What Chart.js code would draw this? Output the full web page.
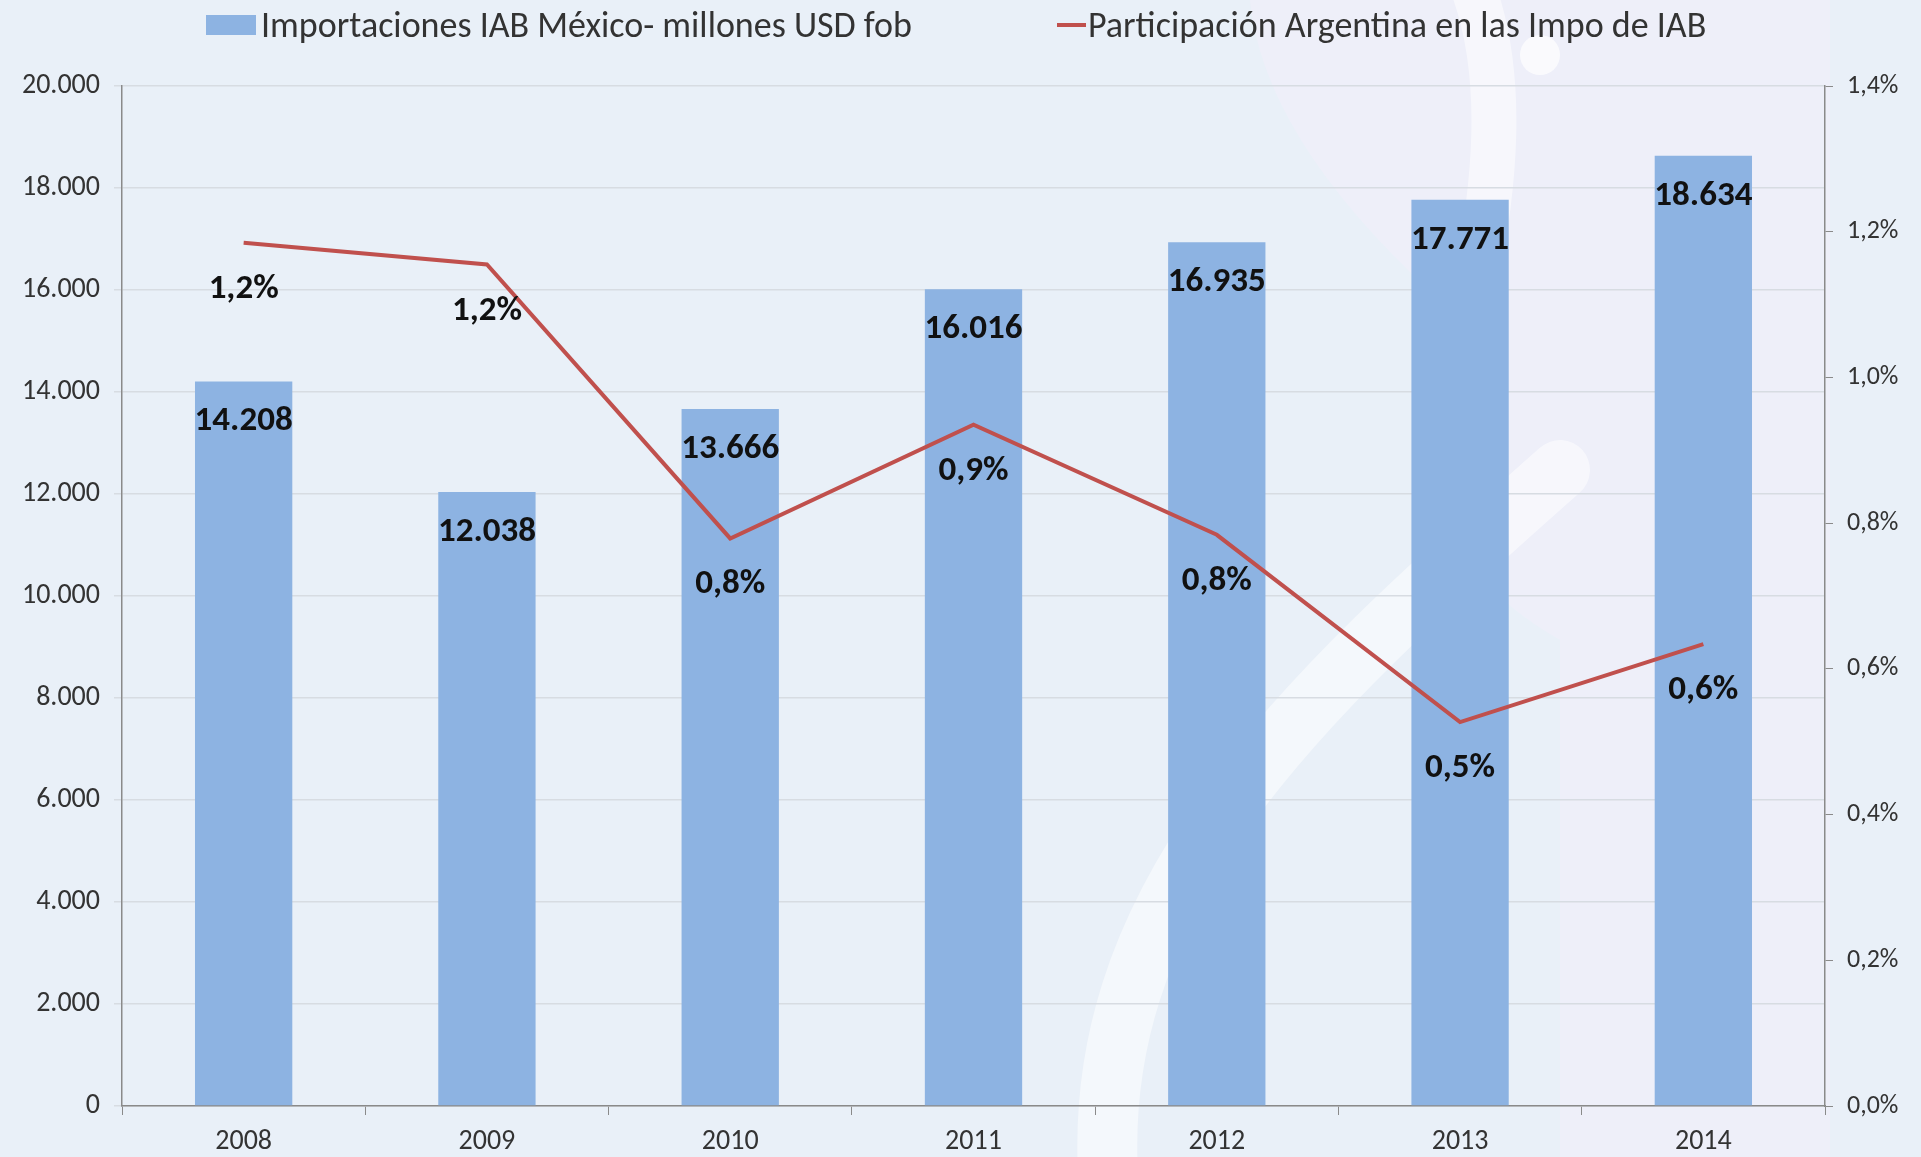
<!DOCTYPE html>
<html lang="es">
<head>
<meta charset="UTF-8">
<title>Importaciones IAB México</title>
<script src="https://cdn.jsdelivr.net/npm/chart.js@4"></script>
<style>
  * { margin: 0; padding: 0; box-sizing: border-box; }
  html, body { width: 1921px; height: 1157px; overflow: hidden; background: #E9F0F8; }
  canvas { display: block; }
</style>
</head>
<body>
<canvas id="chart" width="1921" height="1157"></canvas>
<script>
// ---------- Data ----------
const years = ['2008', '2009', '2010', '2011', '2012', '2013', '2014'];
const importaciones = [14208, 12038, 13666, 16016, 16935, 17771, 18634];   // millones USD fob
const participacion = [1.185, 1.155, 0.779, 0.935, 0.784, 0.527, 0.634];   // % Argentina

const FONT = 'Carlito, Lato, "Liberation Sans", sans-serif';
const BAR_COLOR = '#8DB3E2';
const LINE_COLOR = '#C0504D';
const TEXT = '#333';

const fmtMiles = n => String(Math.round(n)).replace(/\B(?=(\d{3})+(?!\d))/g, '.');
const fmtPct = (v, d) => v.toFixed(d).replace('.', ',') + '%';

// faint logo watermark behind the plot (decoration only)
const watermark = {
  id: 'watermark',
  beforeDraw(chart) {
    const { ctx } = chart;
    ctx.save();
    // lavender body
    ctx.fillStyle = '#EEEFF9';
    ctx.beginPath();
    ctx.moveTo(1250, 0);
    ctx.lineTo(1830, 0);
    ctx.lineTo(1830, 1157);
    ctx.lineTo(1560, 1157);
    ctx.lineTo(1560, 640);
    ctx.bezierCurveTo(1420, 560, 1380, 420, 1440, 300);
    ctx.bezierCurveTo(1330, 200, 1260, 100, 1250, 0);
    ctx.fill();
    // white swoosh from bottom-left up to the right
    ctx.strokeStyle = 'rgba(255,255,255,0.5)';
    ctx.lineWidth = 60;
    ctx.lineCap = 'round';
    ctx.beginPath();
    ctx.moveTo(1110, 1200);
    ctx.bezierCurveTo(1080, 900, 1300, 700, 1560, 470);
    ctx.stroke();
    // white band at the top
    ctx.lineWidth = 45;
    ctx.beginPath();
    ctx.moveTo(1470, -20);
    ctx.bezierCurveTo(1510, 80, 1490, 200, 1480, 260);
    ctx.stroke();
    // small dot
    ctx.fillStyle = 'rgba(255,255,255,0.7)';
    ctx.beginPath();
    ctx.arc(1540, 55, 20, 0, Math.PI * 2);
    ctx.fill();
    ctx.restore();
  }
};

// legend drawn at the top, as in the source chart
const topLegend = {
  id: 'topLegend',
  afterDraw(chart) {
    const { ctx } = chart;
    const ds = chart.data.datasets;
    ctx.save();
    ctx.font = '36px ' + FONT;
    ctx.textBaseline = 'alphabetic';
    ctx.textAlign = 'left';
    ctx.fillStyle = BAR_COLOR;
    ctx.fillRect(206, 15, 50, 20);
    ctx.fillStyle = TEXT;
    ctx.fillText(ds[0].label, 261, 37);
    ctx.strokeStyle = LINE_COLOR;
    ctx.lineWidth = 4;
    ctx.beginPath();
    ctx.moveTo(1057, 25);
    ctx.lineTo(1086, 25);
    ctx.stroke();
    ctx.fillText(ds[1].label, 1088, 37);
    ctx.restore();
  }
};

// value labels
const valueLabels = {
  id: 'valueLabels',
  afterDatasetsDraw(chart) {
    const { ctx } = chart;
    ctx.save();
    ctx.fillStyle = '#111';
    ctx.textAlign = 'center';
    ctx.textBaseline = 'alphabetic';
    ctx.font = 'bold 35px ' + FONT;
    chart.getDatasetMeta(0).data.forEach((el, i) => {
      ctx.fillText(fmtMiles(importaciones[i]), el.x, el.y + 49);
    });
    chart.getDatasetMeta(1).data.forEach((el, i) => {
      ctx.fillText(fmtPct(participacion[i], 1), el.x, el.y + 55);
    });
    ctx.restore();
  }
};

new Chart(document.getElementById('chart'), {
  data: {
    labels: years,
    datasets: [
      {
        type: 'bar',
        label: 'Importaciones IAB México- millones USD fob',
        data: importaciones,
        backgroundColor: BAR_COLOR,
        yAxisID: 'y',
        categoryPercentage: 1,
        barPercentage: 0.4,
        order: 1,
      },
      {
        type: 'line',
        label: 'Participación Argentina en las Impo de IAB',
        data: participacion,
        borderColor: LINE_COLOR,
        backgroundColor: LINE_COLOR,
        borderWidth: 4,
        pointRadius: 0,
        tension: 0,
        yAxisID: 'y1',
        order: 0,
      },
    ],
  },
  options: {
    responsive: false,
    animation: false,
    devicePixelRatio: 1,
    layout: { padding: { left: 0, right: 0, top: 86, bottom: 0 } },
    plugins: {
      legend: { display: false },
      tooltip: { enabled: false },
    },
    scales: {
      x: {
        offset: true,
        grid: { offset: true, drawOnChartArea: false, tickLength: 9, color: '#8a8a8a' },
        border: { color: '#8a8a8a', width: 1.5 },
        ticks: { font: { family: FONT, size: 28 }, color: TEXT, padding: 10, maxRotation: 0 },
        afterFit(scale) { scale.height = 51; },
      },
      y: {
        position: 'left',
        min: 0, max: 20000,
        ticks: { stepSize: 2000, font: { family: FONT, size: 28 }, color: TEXT, padding: 14, callback: v => fmtMiles(v) },
        grid: { color: '#D7DCE2', tickLength: 8, lineWidth: 1.5 },
        border: { color: '#8a8a8a', width: 1.5 },
        afterFit(scale) { scale.width = 122; },
      },
      y1: {
        position: 'right',
        min: 0, max: 1.4,
        ticks: { stepSize: 0.2, font: { family: FONT, size: 26 }, color: TEXT, padding: 14, callback: v => fmtPct(v, 1) },
        grid: { drawOnChartArea: false, tickLength: 8, color: '#8a8a8a' },
        border: { color: '#8a8a8a', width: 1.5 },
        afterFit(scale) { scale.width = 96; },
      },
    },
  },
  plugins: [watermark, topLegend, valueLabels],
});
</script>
</body>
</html>
